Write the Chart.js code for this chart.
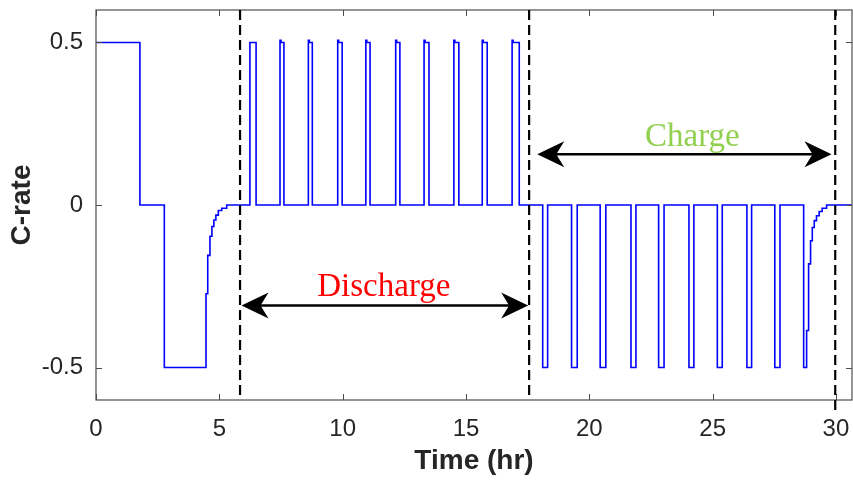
<!DOCTYPE html>
<html>
<head>
<meta charset="utf-8">
<script src="https://cdn.jsdelivr.net/npm/chart.js@4.4.1/dist/chart.umd.min.js"></script>
<style>
  html, body { margin: 0; padding: 0; background: #ffffff; }
  #wrap { width: 853px; height: 483px; position: relative; }
</style>
</head>
<body>
<div id="wrap"><canvas id="c" width="853" height="483"></canvas></div>
<script>
// ---- Data ----
// Step profile: each value holds from its time until the next time.
const timeHr = [
  0, 1.78, 2.77,
  4.46, 4.53, 4.62, 4.70, 4.78, 4.86, 4.96, 5.10, 5.30,
  6.24, 6.49,
  7.46, 7.50, 7.62,
  8.61, 8.65, 8.77,
  9.80, 9.84, 9.98,
  10.94, 10.98, 11.11,
  12.15, 12.19, 12.32,
  13.30, 13.34, 13.50,
  14.51, 14.55, 14.71,
  15.66, 15.70, 15.86,
  16.87, 16.91, 17.16,
  18.11, 18.31,
  19.28, 19.51,
  20.44, 20.67,
  21.69, 21.89,
  22.81, 23.03,
  24.04, 24.24,
  25.19, 25.39,
  26.39, 26.58,
  27.52, 27.73,
  28.69, 28.81, 28.89, 28.97, 29.04, 29.12, 29.21, 29.32, 29.44, 29.62,
  30.65
];
const cRate = [
  0.5, 0, -0.5,
  -0.273, -0.155, -0.096, -0.066, -0.046, -0.031, -0.017, -0.01, 0,
  0.5, 0,
  0.507, 0.5, 0,
  0.507, 0.5, 0,
  0.507, 0.5, 0,
  0.507, 0.5, 0,
  0.507, 0.5, 0,
  0.507, 0.5, 0,
  0.507, 0.5, 0,
  0.507, 0.5, 0,
  0.507, 0.5, 0,
  -0.5, 0,
  -0.5, 0,
  -0.5, 0,
  -0.5, 0,
  -0.5, 0,
  -0.5, 0,
  -0.5, 0,
  -0.5, 0,
  -0.5, 0,
  -0.5, -0.386, -0.181, -0.11, -0.069, -0.048, -0.033, -0.02, -0.01, 0,
  0
];
const xTicks = [0, 5, 10, 15, 20, 25, 30];
const yTicks = [-0.5, 0, 0.5];
const yTickLabels = ['-0.5', '0', '0.5'];
const xRange = [0, 30.65];
const yRange = [-0.6, 0.6];

// Annotations (data coordinates)
const dashedLinesX = [5.84, 17.56, 29.97];
const dischargeArrow = { from: 5.9, to: 17.52, y: -0.309, label: 'Discharge', labelX: 11.67, labelY: -0.281 };
const chargeArrow = { from: 17.89, to: 29.82, y: 0.156, label: 'Charge', labelX: 24.18, labelY: 0.182 };

const points = timeHr.map((t, i) => ({ x: t, y: cRate[i] }));

function arrowHead(ctx, tx, ty, dir) {
  const L = 27, W = 13, N = 19;
  ctx.beginPath();
  ctx.moveTo(tx, ty);
  ctx.lineTo(tx - dir * L, ty - W);
  ctx.lineTo(tx - dir * N, ty);
  ctx.lineTo(tx - dir * L, ty + W);
  ctx.closePath();
  ctx.fill();
}

function drawDoubleArrow(ctx, xs, ys, a, color, font) {
  const x1 = xs.getPixelForValue(a.from);
  const x2 = xs.getPixelForValue(a.to);
  const y = ys.getPixelForValue(a.y);
  ctx.save();
  ctx.strokeStyle = '#000';
  ctx.fillStyle = '#000';
  ctx.lineWidth = 2.5;
  ctx.beginPath();
  ctx.moveTo(x1 + 15, y);
  ctx.lineTo(x2 - 15, y);
  ctx.stroke();
  arrowHead(ctx, x1, y, -1);
  arrowHead(ctx, x2, y, 1);
  ctx.fillStyle = color;
  ctx.font = font;
  ctx.textAlign = 'center';
  ctx.textBaseline = 'alphabetic';
  ctx.fillText(a.label, xs.getPixelForValue(a.labelX), ys.getPixelForValue(a.labelY));
  ctx.restore();
}

const decor = {
  id: 'decor',
  afterDatasetsDraw(chart) {
    const { ctx, chartArea: ca, scales } = chart;
    const xs = scales.x, ys = scales.y;
    ctx.save();
    ctx.strokeStyle = '#4d4d4d';
    ctx.lineWidth = 1.2;
    ctx.strokeRect(ca.left, ca.top, ca.right - ca.left, ca.bottom - ca.top);
    const tl = 6;
    ctx.beginPath();
    xTicks.forEach(v => {
      const px = Math.round(xs.getPixelForValue(v)) + 0.5;
      ctx.moveTo(px, ca.bottom); ctx.lineTo(px, ca.bottom - tl);
      ctx.moveTo(px, ca.top); ctx.lineTo(px, ca.top + tl);
    });
    yTicks.forEach(v => {
      const py = Math.round(ys.getPixelForValue(v)) + 0.5;
      ctx.moveTo(ca.left, py); ctx.lineTo(ca.left + tl, py);
      ctx.moveTo(ca.right, py); ctx.lineTo(ca.right - tl, py);
    });
    ctx.lineWidth = 1;
    ctx.stroke();
    ctx.strokeStyle = '#000';
    ctx.lineWidth = 2.2;
    ctx.setLineDash([10, 5]);
    dashedLinesX.forEach((v, i) => {
      const px = xs.getPixelForValue(v);
      ctx.beginPath();
      ctx.moveTo(px, ca.top);
      ctx.lineTo(px, i === dashedLinesX.length - 1 ? ca.bottom + 15 : ca.bottom);
      ctx.stroke();
    });
    ctx.setLineDash([]);
    ctx.restore();
    drawDoubleArrow(ctx, xs, ys, dischargeArrow, '#ff0000', '33px "Liberation Serif", serif');
    drawDoubleArrow(ctx, xs, ys, chargeArrow, '#92d050', '33px "Liberation Serif", serif');
  }
};

new Chart(document.getElementById('c'), {
  type: 'line',
  data: {
    datasets: [{
      data: points,
      stepped: 'before',
      borderColor: '#0000ff',
      borderWidth: 1.6,
      pointRadius: 0,
      fill: false
    }]
  },
  options: {
    responsive: false,
    animation: false,
    events: [],
    layout: { padding: { top: 10, right: 1, left: 0, bottom: 0 } },
    plugins: { legend: { display: false }, tooltip: { enabled: false } },
    scales: {
      x: {
        type: 'linear',
        min: xRange[0],
        max: xRange[1],
        afterBuildTicks(scale) { scale.ticks = xTicks.map(v => ({ value: v })); },
        afterFit(scale) { scale.height = 83; scale.paddingLeft = 0; scale.paddingRight = 0; },
        grid: { display: false, drawTicks: false },
        border: { display: false },
        ticks: {
          color: '#262626',
          font: { family: '"Liberation Sans", Arial, sans-serif', size: 24, lineHeight: 1 },
          padding: 17,
          maxRotation: 0,
          autoSkip: false,
          callback: v => String(v)
        },
        title: {
          display: true,
          text: 'Time (hr)',
          color: '#262626',
          font: { family: '"Liberation Sans", Arial, sans-serif', size: 28, weight: 'bold', lineHeight: 1 },
          padding: { top: 0, bottom: 8 }
        }
      },
      y: {
        type: 'linear',
        min: yRange[0],
        max: yRange[1],
        afterBuildTicks(scale) { scale.ticks = yTicks.map(v => ({ value: v })); },
        afterFit(scale) { scale.width = 96; scale.paddingTop = 0; scale.paddingBottom = 0; },
        grid: { display: false, drawTicks: false },
        border: { display: false },
        ticks: {
          color: '#262626',
          font: { family: '"Liberation Sans", Arial, sans-serif', size: 24, lineHeight: 1 },
          padding: 13,
          autoSkip: false,
          callback: (v) => yTickLabels[yTicks.indexOf(v)] ?? ''
        },
        title: {
          display: true,
          text: 'C-rate',
          color: '#262626',
          font: { family: '"Liberation Sans", Arial, sans-serif', size: 28, weight: 'bold', lineHeight: 1 },
          padding: { top: 8, bottom: 0 }
        }
      }
    }
  },
  plugins: [decor]
});
</script>
</body>
</html>
